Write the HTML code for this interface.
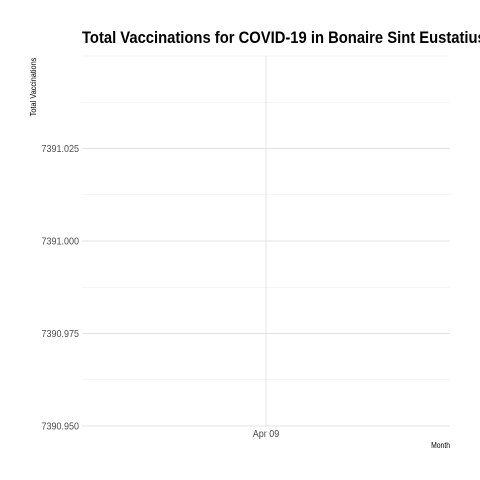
<!DOCTYPE html>
<html><head><meta charset="utf-8"><style>
html,body{margin:0;padding:0;background:#fff;}
svg{display:block;font-family:"Liberation Sans Narrow","Liberation Sans",sans-serif;}
</style></head><body>
<svg id="chart" width="480" height="480" viewBox="0 0 480 480"></svg>
<script>
const categories = ['Apr 09'];
const values = [7391.0];
const yTicks = [7390.950, 7390.975, 7391.000, 7391.025];
const yMinor = [7390.9625, 7390.9875, 7391.0125, 7391.0375, 7391.05];
const svg = document.getElementById('chart');
const NS = 'http://www.w3.org/2000/svg';
const L = 82, R = 450, T = 56, B = 426;
const yMin = 7390.95, yMax = 7391.05;
function y(v){ return B - (v - yMin) / (yMax - yMin) * (B - T); }
function x(i){ return L + (R - L) * (i + 0.5) / categories.length; }
function mk(tag, attrs, parent){
  const e = document.createElementNS(NS, tag);
  for (const k in attrs) e.setAttribute(k, attrs[k]);
  (parent || svg).appendChild(e);
  return e;
}
function txt(px, py, s, attrs, rot){
  attrs.x = 0; attrs.y = 0;
  attrs.transform = 'translate(' + px + ',' + py + ')' + (rot ? ' rotate(' + rot + ')' : '') + ' scale(' + s + ',1)';
  return mk('text', attrs);
}
yMinor.forEach(v => {
  const l = mk('line', {x1:L, x2:R, y1:y(v), y2:y(v), stroke:'#ebebeb', 'stroke-width':0.6});
  
  
});
yTicks.forEach(v => {
  const l = mk('line', {x1:L, x2:R, y1:y(v), y2:y(v), stroke:'#e3e3e3', 'stroke-width':0.9});
  
  
  const t = txt(L-3, y(v)+3.5, 0.9, {'text-anchor':'end', 'font-size':10, fill:'#4d4d4d'});
  t.textContent = v.toFixed(3);
  
  
});
categories.forEach((c, i) => {
  const l = mk('line', {x1:x(i), x2:x(i), y1:T, y2:B, stroke:'#e3e3e3', 'stroke-width':0.9});
  
  
  const t = txt(x(i), B+11, 0.9, {'text-anchor':'middle', 'font-size':10, fill:'#4d4d4d'});
  t.textContent = c;
  
  
});
values.forEach((v, i) => {
  const p = mk('circle', {cx:x(i), cy:y(v), r:0.5, fill:'#ffffff', 'fill-opacity':0.01});
  
  
});
const title = txt(82, 43, 0.87, {'font-size':17, 'font-weight':'bold', fill:'#000'});
title.textContent = 'Total Vaccinations for COVID-19 in Bonaire Sint Eustatius and Saba';


const yt = txt(36, 87, 0.92, {'font-size':8, fill:'#000', 'text-anchor':'middle'}, -90);
yt.textContent = 'Total Vaccinations';


const xt = txt(450, 448, 0.85, {'font-size':8, fill:'#000', 'text-anchor':'end'});
xt.textContent = 'Month';


</script>
</body></html>
